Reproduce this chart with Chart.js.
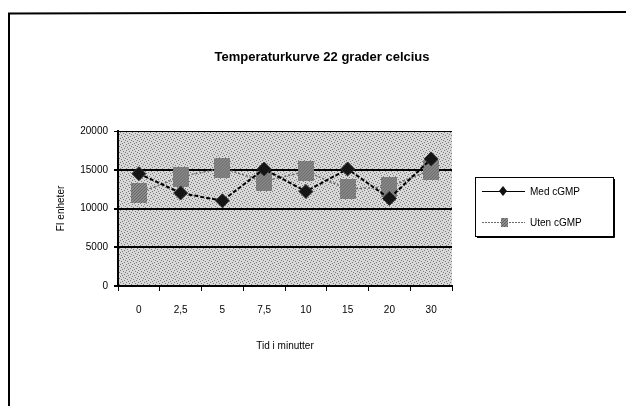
<!DOCTYPE html>
<html>
<head>
<meta charset="utf-8">
<script src="https://cdn.jsdelivr.net/npm/chart.js@4.4.0/dist/chart.umd.min.js"></script>
<style>
  body { margin: 0; background: #fff; }
  canvas { display: block; }
</style>
</head>
<body>
<canvas id="myChart" width="626" height="406"></canvas>
<script>
// data
let categories = ['0', '2,5', '5', '7,5', '10', '15', '20', '30'];
let medCGMP = [14500, 12000, 11000, 15100, 12200, 15100, 11300, 16400];
let utenCGMP = [12000, 14100, 15200, 13500, 14800, 12500, 12800, 15000];
let yTickValues = [0, 5000, 10000, 15000, 20000];
let chartTitle = 'Temperaturkurve 22 grader celcius';

let fontFam = "'Liberation Sans Narrow', 'Liberation Sans', Arial, sans-serif";

// dotted grey background like the old excel print
function makePattern() {
  var c = document.createElement('canvas');
  c.width = 6; c.height = 6;
  var g = c.getContext('2d');
  g.fillStyle = '#d8d8d8';
  g.fillRect(0, 0, 6, 6);
  g.fillStyle = '#7a7a7a';
  var dots = [[0,0],[3,1],[1,3],[4,4],[5,2],[2,5]];
  dots.forEach(function(d) { g.fillRect(d[0], d[1], 1, 1); });
  return c;
}

// grey hatched square marker
function makeSquare(w, h) {
  var c = document.createElement('canvas');
  c.width = w; c.height = h;
  var g = c.getContext('2d');
  g.fillStyle = '#8e8e8e';
  g.fillRect(0, 0, w, h);
  g.strokeStyle = '#5e5e5e';
  g.lineWidth = 1;
  for (var i = -h; i < w; i += 3) {
    g.beginPath();
    g.moveTo(i, h);
    g.lineTo(i + h, 0);
    g.stroke();
  }
  return c;
}

var squareBig = makeSquare(16, 20);
var squareSmall = makeSquare(7, 9);

var bgPlugin = {
  id: 'bg',
  beforeDraw: function(chart) {
    var ctx = chart.ctx, a = chart.chartArea;
    ctx.save();
    ctx.fillStyle = ctx.createPattern(makePattern(), 'repeat');
    ctx.fillRect(a.left, a.top, a.right - a.left, a.bottom - a.top);
    ctx.restore();
  },
  afterDraw: function(chart) {
    var ctx = chart.ctx;
    ctx.save();
    // page frame (top and left edge of the scan)
    ctx.strokeStyle = '#000';
    ctx.lineWidth = 2;
    ctx.beginPath();
    ctx.moveTo(8, 13.5); ctx.lineTo(626, 12);
    ctx.moveTo(9, 13); ctx.lineTo(9, 406);
    ctx.stroke();

    // title, centred over plot + legend like excel does
    ctx.fillStyle = '#000';
    ctx.font = 'bold 13px ' + fontFam;
    ctx.textAlign = 'center';
    ctx.textBaseline = 'middle';
    ctx.fillText(chartTitle, 322, 57);
    ctx.textAlign = 'left';

    // legend box
    var lx = 475, ly = 177, lw = 138, lh = 59;
    ctx.lineWidth = 1;
    ctx.strokeRect(lx + 0.5, ly + 0.5, lw, lh);
    ctx.beginPath();
    ctx.moveTo(lx + 2, ly + lh + 1.5); ctx.lineTo(lx + lw + 1.5, ly + lh + 1.5);
    ctx.moveTo(lx + lw + 1.5, ly + 2); ctx.lineTo(lx + lw + 1.5, ly + lh + 1.5);
    ctx.stroke();

    var ds = chart.data.datasets;
    var rows = [ly + 14, ly + 45];
    ds.forEach(function(d, i) {
      var y = rows[i];
      ctx.strokeStyle = d.borderColor;
      ctx.lineWidth = 1;
      ctx.setLineDash(i === 0 ? [] : [2, 1]);
      ctx.beginPath();
      ctx.moveTo(lx + 7, y + 0.5); ctx.lineTo(lx + 50, y + 0.5);
      ctx.stroke();
      ctx.setLineDash([]);
      if (i === 0) {
        ctx.fillStyle = '#111';
        ctx.beginPath();
        ctx.moveTo(lx + 28, y - 5); ctx.lineTo(lx + 32, y); ctx.lineTo(lx + 28, y + 5); ctx.lineTo(lx + 24, y);
        ctx.closePath();
        ctx.fill();
      } else {
        ctx.drawImage(squareSmall, lx + 26, y - 4);
      }
      ctx.fillStyle = '#000';
      ctx.font = '10px ' + fontFam;
      ctx.textBaseline = 'middle';
      ctx.fillText(d.label, lx + 55, y + 1);
    });
    ctx.restore();
  }
};

var ctx = document.getElementById('myChart').getContext('2d');
var chart = new Chart(ctx, {
  type: 'line',
  data: {
    labels: categories,
    datasets: [{
      label: 'Med cGMP',
      data: medCGMP,
      borderColor: '#000',
      borderWidth: 2,
      borderDash: [4, 2],
      pointStyle: 'rectRot',
      pointRadius: 7,
      pointBackgroundColor: '#151515',
      pointBorderColor: '#333',
      pointBorderWidth: 1
    }, {
      label: 'Uten cGMP',
      data: utenCGMP,
      borderColor: '#6a6a6a',
      borderWidth: 1.5,
      borderDash: [2, 2],
      pointStyle: squareBig,
      pointRadius: 10
    }]
  },
  options: {
    responsive: false,
    animation: false,
    layout: { padding: { left: 0, right: 174, top: 131, bottom: 0 } },
    plugins: {
      legend: { display: false },
      tooltip: { enabled: false },
      title: { display: false }
    },
    scales: {
      x: {
        offset: true,
        grid: { offset: true, drawOnChartArea: false, color: '#000', tickLength: 5 },
        border: { color: '#000', width: 2 },
        ticks: { color: '#000', padding: 13, font: { family: fontFam, size: 10 } },
        title: {
          display: true,
          text: 'Tid i minutter',
          color: '#000',
          font: { family: fontFam, size: 10 },
          padding: { top: 0, bottom: 54 }
        },
        afterFit: function(scale) { scale.height = 120; }
      },
      y: {
        min: 0,
        max: 20000,
        afterBuildTicks: function(scale) {
          scale.ticks = yTickValues.map(function(v) { return { value: v }; });
        },
        grid: {
          color: '#000',
          lineWidth: function(c) { return c.tick && c.tick.value === 20000 ? 1 : 2; },
          tickLength: 4
        },
        border: { color: '#000', width: 2 },
        ticks: {
          color: '#000',
          padding: 6,
          font: { family: fontFam, size: 10 },
          callback: function(v) { return String(v); }
        },
        title: {
          display: true,
          text: 'FI enheter',
          color: '#000',
          font: { family: fontFam, size: 10 },
          padding: { top: 55, bottom: 0 }
        },
        afterFit: function(scale) { scale.width = 118; }
      }
    }
  },
  plugins: [bgPlugin]
});
</script>
</body>
</html>
